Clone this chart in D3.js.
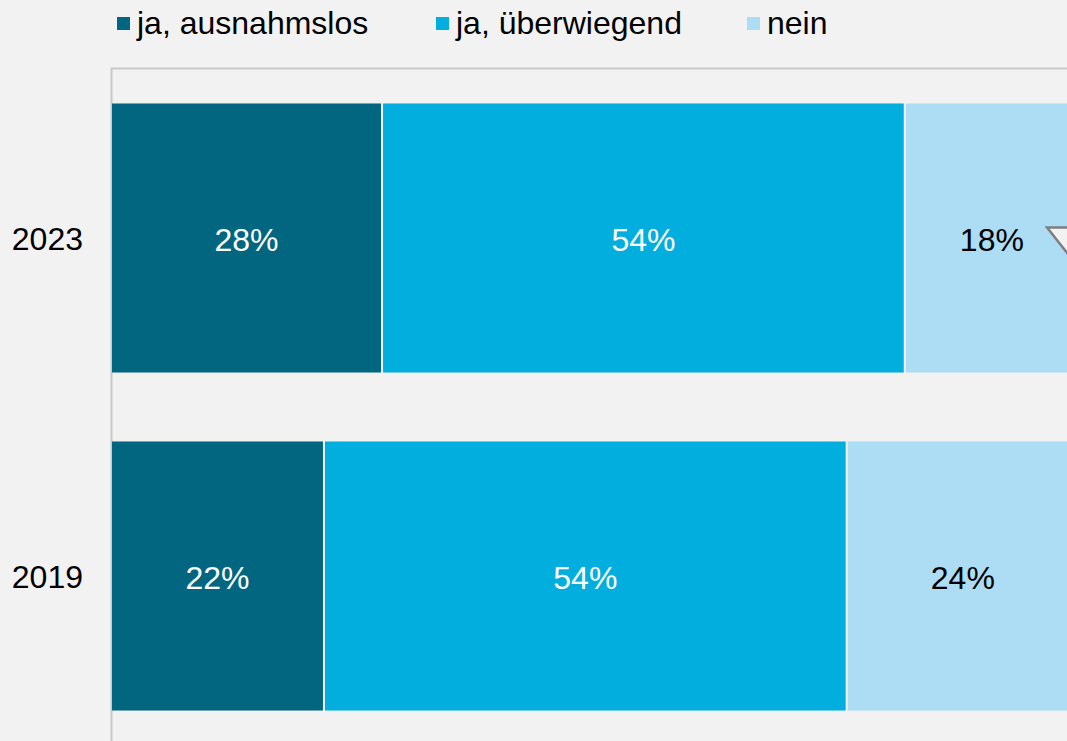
<!DOCTYPE html>
<html>
<head>
<meta charset="utf-8">
<script src="https://cdn.jsdelivr.net/npm/d3@7"></script>
<style>
  html, body { margin: 0; padding: 0; background: #f2f2f2; overflow: hidden; }
  svg { display: block; font-family: "Liberation Sans", Arial, sans-serif; }
</style>
</head>
<body>
<svg id="chart" width="1067" height="741"></svg>
<script>
// Survey years and answer shares (percent)
const years = ["2023", "2019"];
const seriesNames = ["ja, ausnahmslos", "ja, überwiegend", "nein"];
const ausnahmslos = [28, 22];
const ueberwiegend = [54, 54];
const nein = [18, 24];
const colors = ["#026680", "#02aede", "#addcf5"];
const labelColors = ["#ffffff", "#ffffff", "#000000"];

const rows = years.map((y, i) => ({ year: y, values: [ausnahmslos[i], ueberwiegend[i], nein[i]] }));

const svg = d3.select("#chart");
const margin = { left: 111, top: 68 };
const plotW = 968, plotH = 676;
const fontSize = 32;

const x = d3.scaleLinear().domain([0, 100]).range([margin.left, margin.left + plotW]);
const y = d3.scaleBand().domain(years).range([margin.top + 1, margin.top + 1 + plotH]).paddingInner(0.204).paddingOuter(0.102);

// frame lines
svg.append("line").attr("x1", margin.left).attr("x2", 1067).attr("y1", margin.top + 0.5).attr("y2", margin.top + 0.5)
  .attr("stroke", "#c8c8c8").attr("stroke-width", 2);
svg.append("line").attr("x1", margin.left + 0.5).attr("x2", margin.left + 0.5).attr("y1", margin.top).attr("y2", 741)
  .attr("stroke", "#c8c8c8").attr("stroke-width", 2);

// stacked bars
const g = svg.append("g");
rows.forEach(r => {
  let acc = 0;
  r.values.forEach((v, k) => {
    const x0 = x(acc), x1 = x(acc + v);
    g.append("rect")
      .attr("x", x0 + 1).attr("y", y(r.year))
      .attr("width", x1 - x0 - 2).attr("height", y.bandwidth())
      .attr("fill", colors[k]);
    g.append("text")
      .attr("x", (x0 + x1) / 2).attr("y", y(r.year) + y.bandwidth() / 2 + 2)
      .attr("text-anchor", "middle").attr("dominant-baseline", "central")
      .attr("font-size", fontSize).attr("fill", labelColors[k])
      .text(v + "%");
    acc += v;
  });
});

// category axis
const yAxis = svg.append("g").attr("transform", `translate(${margin.left},0)`)
  .call(d3.axisLeft(y).tickSize(0).tickPadding(28));
yAxis.select(".domain").remove();
yAxis.selectAll("text").attr("font-size", fontSize).attr("fill", "#000")
  .attr("font-family", "Liberation Sans, Arial, sans-serif").attr("dy", "0.36em");

// decline marker on the 2023 "nein" segment
const ty = y("2023") + 124;
svg.append("path")
  .attr("d", `M${x(96.7)},${ty} L${x(101.9)},${ty} L${x(99.3)},${ty + 32} Z`)
  .attr("fill", "#f2f2f2").attr("stroke", "#7f7f7f").attr("stroke-width", 2.5);

// legend
const legendX = [117, 436, 747];
const legend = svg.append("g");
seriesNames.forEach((n, k) => {
  legend.append("rect").attr("x", legendX[k]).attr("y", 17).attr("width", 13).attr("height", 13).attr("fill", colors[k]);
  legend.append("text").attr("x", legendX[k] + 20).attr("y", 23)
    .attr("dominant-baseline", "central").attr("font-size", fontSize).attr("fill", "#000").text(n);
});
</script>
</body>
</html>
